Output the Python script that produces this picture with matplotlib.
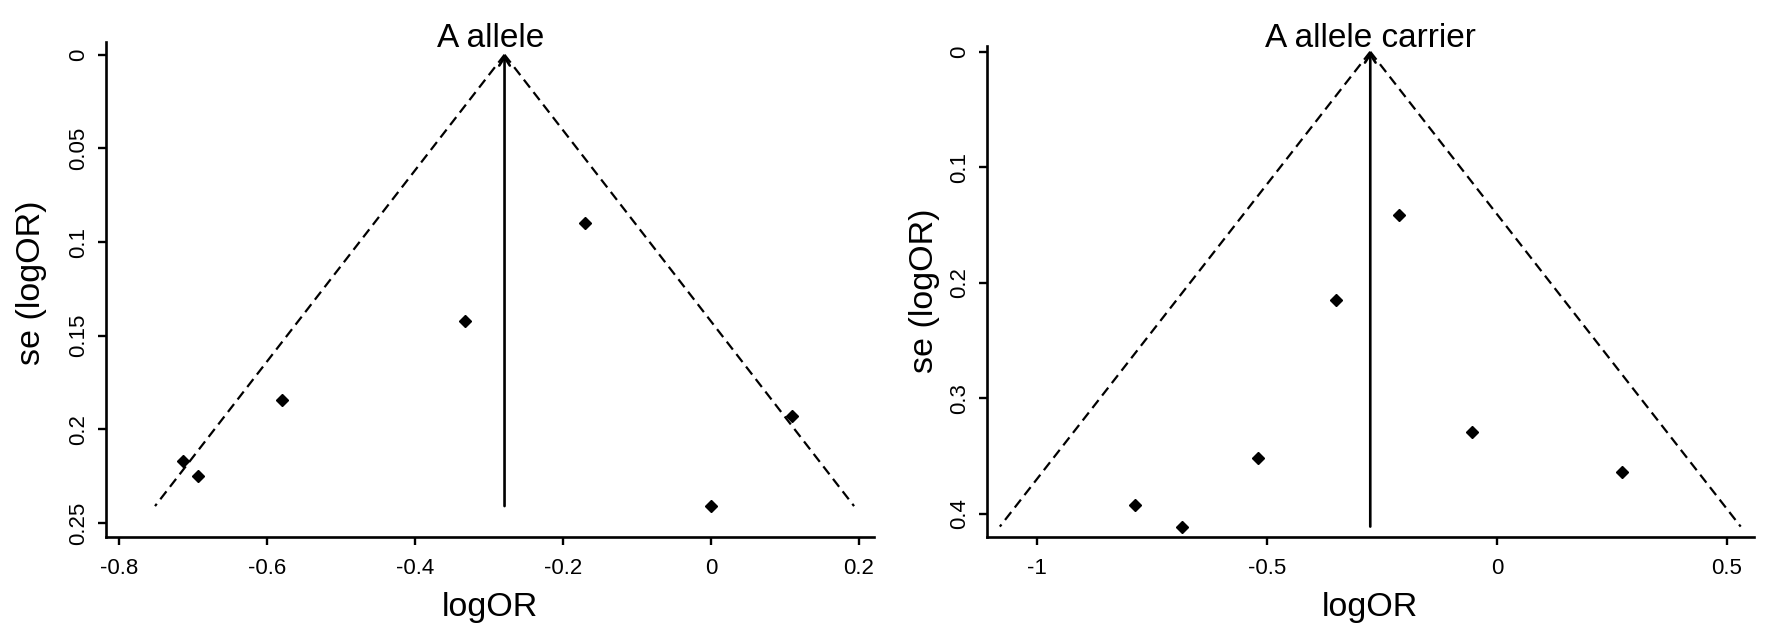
import numpy as np
import matplotlib
matplotlib.use('Agg')
import matplotlib.pyplot as plt

plt.rcParams['font.family'] = ['Liberation Sans', 'DejaVu Sans']
plt.rcParams['axes.unicode_minus'] = False

W, H = 1772, 638
DPI = 100

# A allele
a_logor = [-0.713, -0.693, -0.580, -0.332, -0.170, 0.109, 0.000]
a_se = [0.217, 0.225, 0.1845, 0.1424, 0.090, 0.193, 0.241]
a_pooled = -0.279
a_xticks = [-0.8, -0.6, -0.4, -0.2, 0, 0.2]
a_xlabels = ['-0.8', '-0.6', '-0.4', '-0.2', '0', '0.2']
a_yticks = [0, 0.05, 0.1, 0.15, 0.2, 0.25]
a_ylabels = ['0', '0.05', '0.1', '0.15', '0.2', '0.25']

# A allele carrier
c_logor = [-0.787, -0.685, -0.519, -0.349, -0.213, -0.055, 0.273]
c_se = [0.392, 0.411, 0.352, 0.215, 0.141, 0.329, 0.364]
c_pooled = -0.2755
c_xticks = [-1, -0.5, 0, 0.5]
c_xlabels = ['-1', '-0.5', '0', '0.5']
c_yticks = [0, 0.1, 0.2, 0.3, 0.4]
c_ylabels = ['0', '0.1', '0.2', '0.3', '0.4']


def fx(px):
    return px / W


def fy(py):
    # pixel from top -> figure fraction
    return 1 - py / H


def funnel(ax, logor, se, pooled, xlim, ylim, xticks, xlabels, yticks, ylabels):
    maxse = max(se)
    s = np.array([0, maxse])
    ax.plot(pooled - 1.96 * s, s, color='black', lw=1.6, ls=(0, (4.5, 2.6)))
    ax.plot(pooled + 1.96 * s, s, color='black', lw=1.6, ls=(0, (4.5, 2.6)))
    ax.annotate('', xy=(pooled, 0), xytext=(pooled, maxse),
                arrowprops=dict(arrowstyle='->,head_length=0.6,head_width=0.38',
                                lw=1.9, color='black', shrinkA=0, shrinkB=0))
    ax.plot(logor, se, ls='none', marker='D', ms=6.5, color='black')
    ax.set_xlim(xlim)
    ax.set_ylim(ylim)
    ax.set_xticks(xticks)
    ax.set_xticklabels(xlabels)
    ax.set_yticks(yticks)
    ax.set_yticklabels(ylabels, rotation=90, va='center')
    for sp in ['top', 'right']:
        ax.spines[sp].set_visible(False)
    for sp in ['left', 'bottom']:
        ax.spines[sp].set_linewidth(1.9)
    ax.tick_params(axis='both', length=6, width=1.7, labelsize=16)
    ax.tick_params(axis='x', pad=9)
    ax.tick_params(axis='y', pad=6)


fig = plt.figure(figsize=(W / DPI, H / DPI), dpi=DPI)

ax1 = fig.add_axes([fx(106), fy(537), fx(874 - 106), (537 - 42) / H])
funnel(ax1, a_logor, a_se, a_pooled, (-0.8176, 0.2203), (0.2575, -0.0068),
       a_xticks, a_xlabels, a_yticks, a_ylabels)

ax2 = fig.add_axes([fx(987), fy(537), fx(1754 - 987), (537 - 46) / H])
funnel(ax2, c_logor, c_se, c_pooled, (-1.109, 0.559), (0.42, -0.005),
       c_xticks, c_xlabels, c_yticks, c_ylabels)

fig.text(fx(491), fy(47), 'A allele', ha='center', va='baseline', fontsize=24)
fig.text(fx(1370), fy(47), 'A allele carrier', ha='center', va='baseline', fontsize=24)
fig.text(fx(490), fy(616), 'logOR', ha='center', va='baseline', fontsize=24.5)
fig.text(fx(1370), fy(616), 'logOR', ha='center', va='baseline', fontsize=24.5)
fig.text(fx(32), fy(283), 'se (logOR)', ha='center', va='center', rotation=90, fontsize=24.5)
fig.text(fx(925), fy(291), 'se (logOR)', ha='center', va='center', rotation=90, fontsize=24.5)

fig.savefig('out.png', dpi=DPI, facecolor='white')
